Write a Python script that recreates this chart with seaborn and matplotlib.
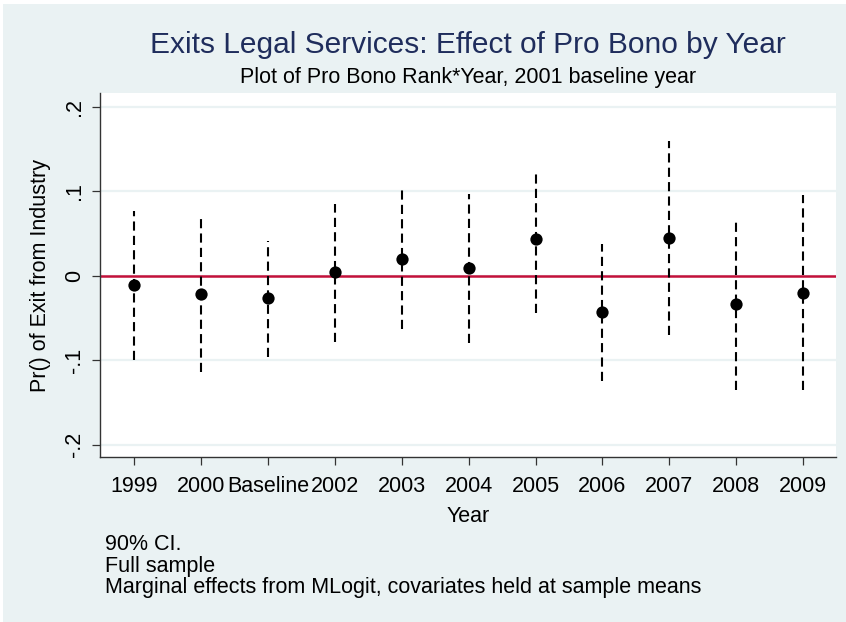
import matplotlib
matplotlib.use("Agg")
import matplotlib.pyplot as plt
from matplotlib.patches import Rectangle
import seaborn as sns
import pandas as pd
import numpy as np

# Marginal effects of pro bono rank by year (2001 is the baseline year)
years = ["1999", "2000", "Baseline", "2002", "2003", "2004",
         "2005", "2006", "2007", "2008", "2009"]
effect = [-0.011, -0.022, -0.027, 0.004, 0.020, 0.009,
          0.043, -0.043, 0.045, -0.034, -0.020]
ci_low = [-0.100, -0.114, -0.096, -0.078, -0.063, -0.080,
          -0.044, -0.125, -0.070, -0.135, -0.135]
ci_high = [0.077, 0.071, 0.041, 0.085, 0.101, 0.097,
           0.123, 0.038, 0.159, 0.066, 0.096]
y_ticks = [-0.2, -0.1, 0.0, 0.1, 0.2]
y_ticklabels = ["-.2", "-.1", "0", ".1", ".2"]

df = pd.DataFrame({"year": years, "effect": effect,
                   "lo": ci_low, "hi": ci_high})
df["pos"] = np.arange(len(df))

sns.set_theme(style="white")
plt.rcParams["font.family"] = ["Liberation Sans", "DejaVu Sans"]

bg = "#EAF2F3"
fig = plt.figure(figsize=(8.46, 6.22), dpi=100, facecolor="white")
fig.add_artist(Rectangle((3 / 846, 0), 1 - 3 / 846, 1 - 4 / 622,
                         transform=fig.transFigure, facecolor=bg,
                         edgecolor="none", zorder=-10))

ax = fig.add_axes([100 / 846, (622 - 457) / 622, 736 / 846, 364 / 622])
ax.set_zorder(1)
ax.set_facecolor("white")

# horizontal grid lines
for t in y_ticks:
    ax.axhline(t, color=bg, lw=1.6, zorder=0)

# reference line at zero
ax.axhline(0, color="#C3103A", lw=1.8, zorder=1)

# 90% confidence intervals
ax.vlines(df["pos"], df["lo"], df["hi"], colors="black",
          linestyles=(0, (4.4, 2.5)), lw=1.5, zorder=2)

# point estimates
sns.scatterplot(data=df, x="pos", y="effect", ax=ax, color="black",
                s=78, edgecolor="black", linewidth=0, zorder=3, legend=False)

ax.set_xlim(-0.51, 10.49)
ax.set_ylim(-0.2146, 0.2162)
ax.set_xticks(df["pos"])
ax.set_xticklabels(df["year"], fontsize=15.5)
ax.set_yticks(y_ticks)
ax.set_yticklabels(y_ticklabels, fontsize=15.5, rotation=90, va="center")

for side in ["top", "right"]:
    ax.spines[side].set_visible(False)
for side in ["left", "bottom"]:
    ax.spines[side].set_color("#333333")
    ax.spines[side].set_linewidth(1.0)

ax.tick_params(axis="both", which="both", direction="out", length=6,
               width=0.9, color="#333333", left=True, bottom=True,
               labelcolor="black")
ax.tick_params(axis="x", pad=8)
ax.tick_params(axis="y", pad=5)

ax.set_xlabel("Year", fontsize=15.5, labelpad=6, color="black")
ax.set_ylabel("Pr() of Exit from Industry", fontsize=15.5, labelpad=9,
              color="black")

fig.text(468 / 846, 1 - 45 / 622,
         "Exits Legal Services: Effect of Pro Bono by Year",
         ha="center", va="center", fontsize=21.5, color="#1F2D5C")
fig.text(468 / 846, 1 - 78 / 622,
         "Plot of Pro Bono Rank*Year, 2001 baseline year",
         ha="center", va="center", fontsize=15.5, color="black")

notes = ["90% CI.", "Full sample",
         "Marginal effects from MLogit, covariates held at sample means"]
for i, line in enumerate(notes):
    fig.text(105 / 846, 1 - (545 + 21.5 * i) / 622, line,
             ha="left", va="center", fontsize=15.5, color="black")

fig.savefig("out.png", dpi=100, facecolor=fig.get_facecolor())
